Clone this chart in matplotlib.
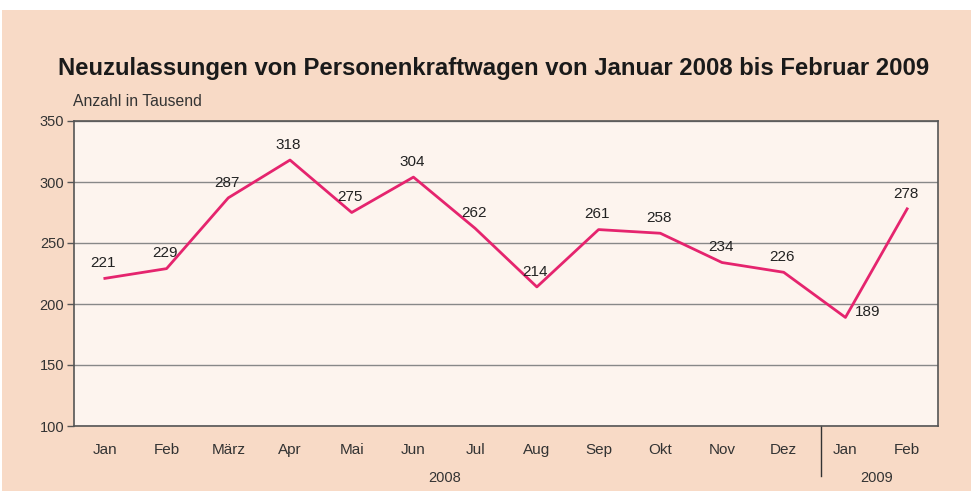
import matplotlib.pyplot as plt
from matplotlib.patches import Rectangle

# Daten (Anzahl in Tausend)
monate = ["Jan", "Feb", "März", "Apr", "Mai", "Jun", "Jul", "Aug", "Sep", "Okt", "Nov", "Dez", "Jan", "Feb"]
werte = [221, 229, 287, 318, 275, 304, 262, 214, 261, 258, 234, 226, 189, 278]
jahre = ["2008", "2009"]
yticks = [100, 150, 200, 250, 300, 350]

plt.rcParams['font.family'] = ['Liberation Sans', 'DejaVu Sans']

fig = plt.figure(figsize=(9.71, 4.91), dpi=100, facecolor='white')
# pfirsichfarbener Hintergrund
fig.patches.append(Rectangle((2/971, 0), 1, (491-10)/491, transform=fig.transFigure,
                             facecolor='#f8dac6', edgecolor='none', zorder=-10))

ax = fig.add_axes([74/971, 65/491, 864/971, 305/491])
ax.set_facecolor('#fdf4ee')

x = list(range(len(werte)))
ax.plot(x, werte, color='#e5246e', lw=2, zorder=3)

# Datenbeschriftung
for i, v in enumerate(werte):
    if v == 189:
        ax.annotate(str(v), (i, v), xytext=(7, 4), textcoords='offset points',
                    ha='left', va='center', fontsize=11, color='#222222')
    else:
        ax.annotate(str(v), (i, v), xytext=(-1, 6), textcoords='offset points',
                    ha='center', va='bottom', fontsize=11, color='#222222')

ax.set_xlim(-0.5, len(werte) - 0.5)
ax.set_ylim(100, 350)
ax.set_yticks(yticks)
ax.set_yticklabels([str(t) for t in yticks], fontsize=10.5, color='#333333')
ax.yaxis.grid(True, color='#888888', lw=1)
ax.set_axisbelow(True)
ax.tick_params(axis='y', length=5, color='#555555', width=1, pad=2)

ax.set_xticks(x)
ax.set_xticklabels(monate, fontsize=11, color='#333333', fontstretch='condensed')
ax.tick_params(axis='x', length=0, pad=12)

for s in ax.spines.values():
    s.set_color('#555555')
    s.set_linewidth(1.2)

# Jahresbeschriftung und Trennlinie
ax.plot([11.6, 11.6], [0, -0.165], transform=ax.get_xaxis_transform(),
        color='#333333', lw=1, clip_on=False)
ax.text(5.5, -0.17, jahre[0], transform=ax.get_xaxis_transform(), ha='center', va='center',
        fontsize=10.5, color='#333333')
ax.text(12.5, -0.17, jahre[1], transform=ax.get_xaxis_transform(), ha='center', va='center',
        fontsize=10.5, color='#333333')

fig.text(494/971, 1 - 68/491, "Neuzulassungen von Personenkraftwagen von Januar 2008 bis Februar 2009",
         ha='center', va='center', fontsize=17.2, fontweight='bold', color='#1a1a1a')
fig.text(73/971, 1 - 101/491, "Anzahl in Tausend", ha='left', va='center', fontsize=11.3, color='#333333')

fig.savefig('out.png', dpi=100, facecolor=fig.get_facecolor())
